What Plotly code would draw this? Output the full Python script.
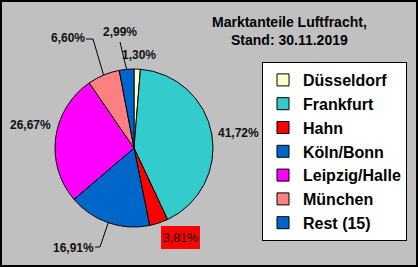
import math
import plotly.graph_objects as go

# ---- data ----
labels = ["Düsseldorf", "Frankfurt", "Hahn", "Köln/Bonn", "Leipzig/Halle", "München", "Rest (15)"]
shares = [1.30, 41.72, 3.81, 16.91, 26.67, 6.60, 2.99]
title_lines = ["Marktanteile Luftfracht,", "Stand: 30.11.2019"]

# ---- styles / layout ----
colors = ["#FFFFCC", "#33CCCC", "#FF0000", "#0066CC", "#FF00FF", "#FF8080", "#0066CC"]
W, H = 418, 267
CX, CY, R = 134, 148, 79
FONT = "Arial, Liberation Sans, sans-serif"

# label centre (px) and leader-line elbow points (px) per slice
label_pos = [(139, 55), (238, 132.5), (180, 237.5), (73, 248), (30, 125), (68, 38), (120, 32)]
leaders = {3: [(100, 247), (95, 247)], 5: [(93, 39), (86, 39)], 6: [(120, 42)]}


def px(x):
    return x / W


def py(y):
    return 1 - y / H


fig = go.Figure(go.Pie(
    labels=labels, values=shares, sort=False, direction="clockwise", rotation=0,
    marker=dict(colors=colors, line=dict(color="black", width=1)),
    textinfo="none", hoverinfo="skip",
    domain=dict(x=[px(CX - R), px(CX + R)], y=[py(CY + R), py(CY - R)]),
))

total = sum(shares)
cum = 0
annotations = []
shapes = []
for i, v in enumerate(shares):
    mid = (cum + v / 2) / total * 2 * math.pi
    cum += v
    ex = CX + R * math.sin(mid)
    ey = CY - R * math.cos(mid)
    txt = f"{v:.2f}%".replace(".", ",")
    lx, ly = label_pos[i]
    if i == 2:
        annotations.append(dict(
            x=px(lx), y=py(ly), xref="paper", yref="paper", text=txt, showarrow=False,
            font=dict(family=FONT, size=12.5, color="black"), bgcolor="#FF0000",
            width=37, height=21, borderpad=1, borderwidth=0,
            xanchor="center", yanchor="middle"))
    else:
        annotations.append(dict(
            x=px(lx), y=py(ly), xref="paper", yref="paper", text="<b>" + txt + "</b>",
            showarrow=False, font=dict(family=FONT, size=12, color="#101010"),
            xanchor="center", yanchor="middle"))
    if i in leaders:
        pts = [(ex, ey)] + leaders[i]
        path = "M " + " L ".join(f"{px(a)},{py(b)}" for a, b in pts)
        shapes.append(dict(type="path", xref="paper", yref="paper", path=path,
                           line=dict(color="black", width=1)))

annotations.append(dict(
    x=px(289), y=py(31), xref="paper", yref="paper",
    text="<b>" + "<br>".join(title_lines) + "</b>", showarrow=False,
    font=dict(family=FONT, size=14, color="black"), xanchor="center", yanchor="middle"))

shapes.append(dict(type="rect", xref="paper", yref="paper", x0=px(1), x1=px(W - 1),
                   y0=py(H - 1), y1=py(1), line=dict(color="black", width=2)))

fig.update_layout(
    width=W, height=H, margin=dict(l=0, r=0, t=0, b=0, pad=0),
    paper_bgcolor="#C0C0C0", plot_bgcolor="#C0C0C0",
    separators=",.",
    showlegend=True,
    legend=dict(x=px(262), y=py(62), xanchor="left", yanchor="top",
                bgcolor="white", bordercolor="black", borderwidth=1,
                font=dict(family=FONT, size=16, color="black", weight="bold"), itemwidth=30,
                traceorder="normal"),
    annotations=annotations, shapes=shapes,
)

fig.write_html("out.html")
